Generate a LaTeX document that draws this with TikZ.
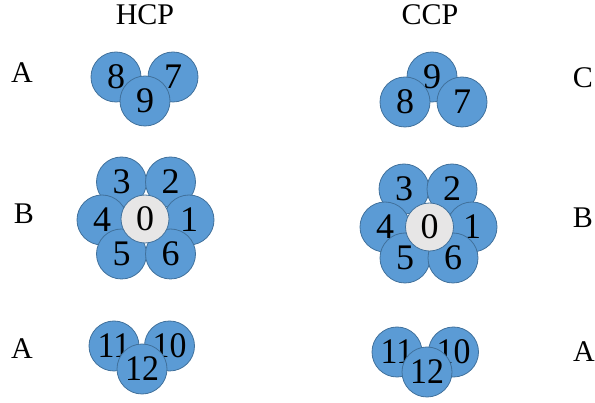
\documentclass[tikz,border=0pt]{standalone}
\usepackage{fontspec}
\setmainfont{Liberation Serif}
\definecolor{ballfill}{HTML}{5B9BD5}
\definecolor{balledge}{HTML}{41719C}
\definecolor{centerfill}{HTML}{E7E6E6}
\newcommand{\twodig}[1]{\scalebox{0.94}[1]{#1}}
\begin{document}
\begin{tikzpicture}[x=1pt,y=-1pt,
  ball/.style={circle,draw=balledge,line width=0.8pt,fill=ballfill,minimum size=50pt,inner sep=0pt,font=\fontsize{36}{36}\selectfont},
  core/.style={ball,fill=centerfill,minimum size=48pt},
  lbl/.style={font=\fontsize{30}{30}\selectfont,inner sep=0pt}]
\useasboundingbox (0,0) rectangle (595,403);
% headings
\node[lbl] (thcp) at (145,15) {HCP};
\node[lbl] (tccp) at (430,15) {CCP};
\node[lbl] (la1) at (22,73) {A};
\node[lbl] (lb1) at (24,214) {B};
\node[lbl] (la2) at (22,349) {A};
\node[lbl] (rc) at (583,78) {C};
\node[lbl] (rb) at (583,218) {B};
\node[lbl] (ra) at (584,352) {A};
% HCP top layer
\node[ball] (h8) at (116,77) {8};
\node[ball] (h7) at (173,77) {7};
\node[ball] (h9) at (145,101) {9};
% HCP middle layer
\node[ball] (h3) at (121.5,182) {3};
\node[ball] (h2) at (170.5,182) {2};
\node[ball] (h4) at (102,220) {4};
\node[ball] (h1) at (189,220) {1};
\node[ball] (h5) at (121.5,254) {5};
\node[ball] (h6) at (170.5,254) {6};
\node[core] (h0) at (145,219) {0};
% HCP bottom layer
\node[ball] (h11) at (114,346) {\twodig{11}};
\node[ball] (h10) at (169.5,346) {\twodig{10}};
\node[ball] (h12) at (142,369) {\twodig{12}};
% CCP top layer
\node[ball] (c9) at (432,77) {9};
\node[ball] (c8) at (405,102) {8};
\node[ball] (c7) at (462,102) {7};
% CCP middle layer
\node[ball] (c3) at (404,189) {3};
\node[ball] (c2) at (452,189) {2};
\node[ball] (c4) at (385,227) {4};
\node[ball] (c1) at (472,227) {1};
\node[ball] (c5) at (405,258) {5};
\node[ball] (c6) at (453,258) {6};
\node[core] (c0) at (429.5,227) {0};
% CCP bottom layer
\node[ball] (c11) at (397,352) {\twodig{11}};
\node[ball] (c10) at (453.5,352) {\twodig{10}};
\node[ball] (c12) at (427,372) {\twodig{12}};
\end{tikzpicture}
\end{document}
